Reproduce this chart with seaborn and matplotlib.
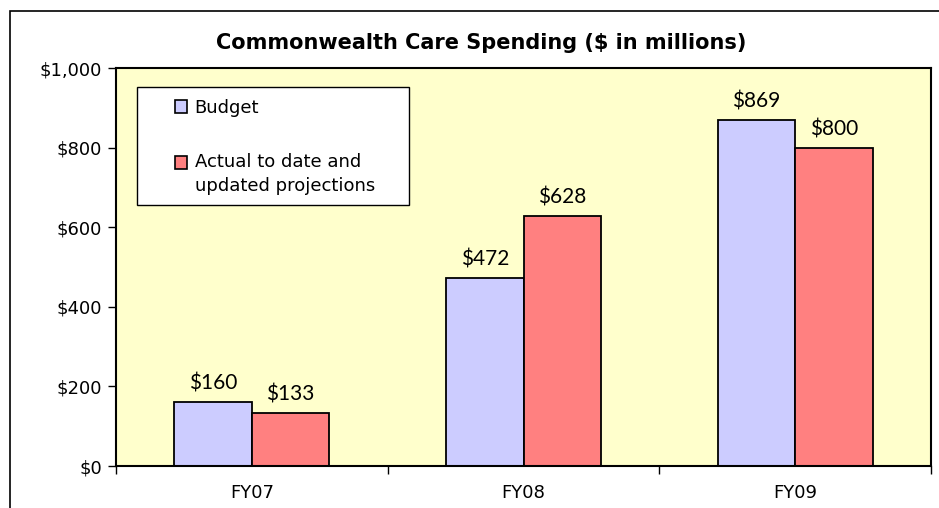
import pandas as pd
import numpy as np
import matplotlib
matplotlib.use('Agg')
import matplotlib.pyplot as plt
import seaborn as sns
from matplotlib.patches import Rectangle

# data
years = ['FY07', 'FY08', 'FY09']
budget = [160, 472, 869]
actual = [133, 628, 800]
series_names = ['Budget', 'Actual to date and\nupdated projections']
yticks = [0, 200, 400, 600, 800, 1000]

df = pd.DataFrame({
    'year': years * 2,
    'value': budget + actual,
    'series': [series_names[0]] * 3 + [series_names[1]] * 3,
})

sns.set_style('white')
plt.rcParams['font.family'] = ['DejaVu Sans']
plt.rcParams['text.color'] = 'black'
plt.rcParams['xtick.color'] = 'black'
plt.rcParams['ytick.color'] = 'black'

fig = plt.figure(figsize=(9.39, 5.08), dpi=100)
ax = fig.add_axes([116 / 939, 42 / 508, 815 / 939, 398 / 508])
ax.set_facecolor('#FFFFCC')

sns.barplot(data=df, x='year', y='value', hue='series', ax=ax,
            palette=['#CCCCFF', '#FF8080'], saturation=1, width=0.57,
            edgecolor='black', linewidth=1.3, errorbar=None)

for c in ax.containers:
    ax.bar_label(c, labels=[f'${v:.0f}' for v in c.datavalues],
                 padding=6, fontsize=15, family='Lato', color='black')

ax.set_xlim(-0.5, 2.5)
ax.set_ylim(0, 1000)
ax.set_yticks(yticks)
ax.set_yticklabels([f'${v:,}' for v in yticks], fontsize=13)
ax.tick_params(axis='y', direction='out', length=6, width=1, left=True, pad=4)
ax.set_xticks(range(3))
ax.set_xticklabels(years, fontsize=13)
ax.tick_params(axis='x', which='major', length=0, pad=13)
ax.set_xticks([-0.5, 0.5, 1.5, 2.5], minor=True)
ax.tick_params(axis='x', which='minor', direction='out', length=6, width=1, bottom=True)
ax.set_xlabel('')
ax.set_ylabel('')
for s in ax.spines.values():
    s.set_visible(True)
    s.set_color('black')
    s.set_linewidth(1.5)

# legend box drawn separately so its padding matches the original
ax.add_patch(Rectangle((0.026, 0.656), 0.334, 0.296, transform=ax.transAxes,
                       facecolor='white', edgecolor='black', linewidth=1,
                       zorder=4))
leg = ax.legend(loc='upper left', bbox_to_anchor=(0.072, 0.922),
                fontsize=13, frameon=False, borderpad=0,
                labelspacing=2.0, handlelength=0.7, handleheight=0.7,
                handletextpad=0.4, borderaxespad=0)
leg.set_zorder(5)
for t in leg.get_texts():
    t.set_linespacing(1.45)
for p in leg.get_patches():
    p.set_linewidth(1.2)
# second marker sits beside the first text line, as in the original
p2 = leg.get_patches()[1]
p2.set_y(p2.get_y() + 9)

fig.text(0.512, 1 - 43 / 508, 'Commonwealth Care Spending ($ in millions)',
         ha='center', va='center', fontsize=15, fontweight='bold')

# outer chart border (cropped on the right and bottom)
fig.patches.append(Rectangle((10 / 939, -0.05), 1.0, 1 - 11 / 508 + 0.05,
                             transform=fig.transFigure, fill=False,
                             edgecolor='black', linewidth=1.2))

fig.savefig('out.png', dpi=100)
